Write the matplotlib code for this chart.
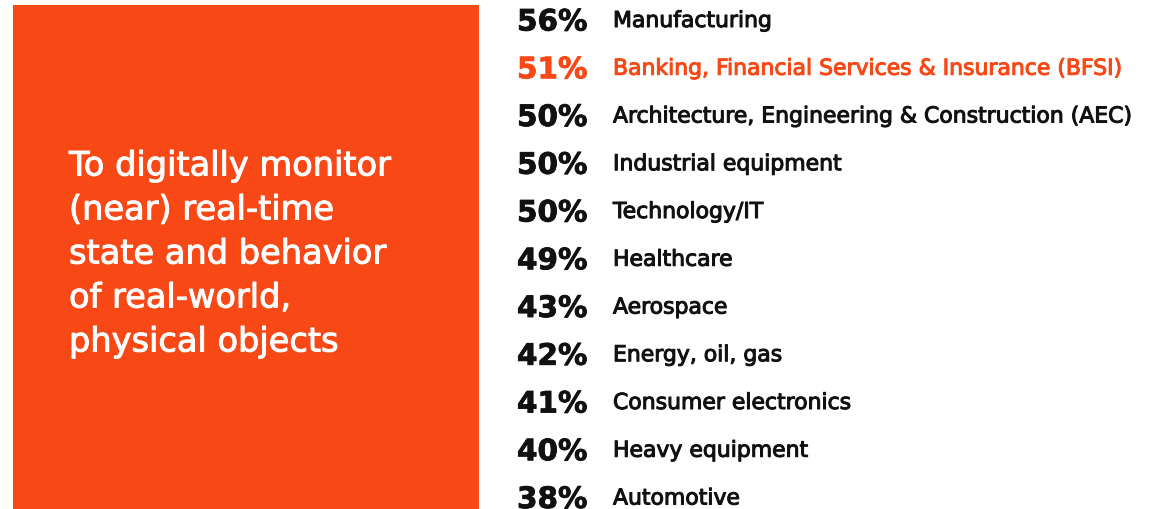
import matplotlib
matplotlib.use("Agg")
import matplotlib.pyplot as plt
from matplotlib.patches import Rectangle
import matplotlib.patheffects as pe

# Share of respondents per industry using digital twins for monitoring
industries = [
    "Manufacturing",
    "Banking, Financial Services & Insurance (BFSI)",
    "Architecture, Engineering & Construction (AEC)",
    "Industrial equipment",
    "Technology/IT",
    "Healthcare",
    "Aerospace",
    "Energy, oil, gas",
    "Consumer electronics",
    "Heavy equipment",
    "Automotive",
]
shares = [56, 51, 50, 50, 50, 49, 43, 42, 41, 40, 38]
highlight = "Banking, Financial Services & Insurance (BFSI)"

title_lines = [
    "To digitally monitor",
    "(near) real-time",
    "state and behavior",
    "of real-world,",
    "physical objects",
]

ORANGE = "#F84816"
W, H = 1172, 509

fig = plt.figure(figsize=(W / 100, H / 100), dpi=100)
ax = fig.add_axes([0, 0, 1, 1])
ax.set_xlim(0, W)
ax.set_ylim(H, 0)
ax.axis("off")


def heavier(color, w):
    return [pe.withStroke(linewidth=w, foreground=color)]


# Orange panel with the use-case statement
ax.add_patch(Rectangle((13, 5), 466, H, color=ORANGE, lw=0))
for i, line in enumerate(title_lines):
    ax.text(69, 166 + i * 44, line, color="white", fontsize=24.2,
            family="DejaVu Sans", va="center", ha="left",
            path_effects=heavier("white", 0.7))

# Ranked list of industries
row0, step = 21, 47.75
for i, (name, val) in enumerate(zip(industries, shares)):
    y = row0 + i * step
    c = ORANGE if name == highlight else "#111111"
    ax.text(517, y + 1.5, f"{val}%", color=c, fontsize=21.2, family="DejaVu Sans",
            fontweight="bold", va="center", ha="left",
            path_effects=heavier(c, 0.6))
    ax.text(613, y, name, color=c, fontsize=15.8, family="DejaVu Sans",
            va="center", ha="left", path_effects=heavier(c, 0.75))

fig.savefig("out.png", dpi=100, facecolor="white")
